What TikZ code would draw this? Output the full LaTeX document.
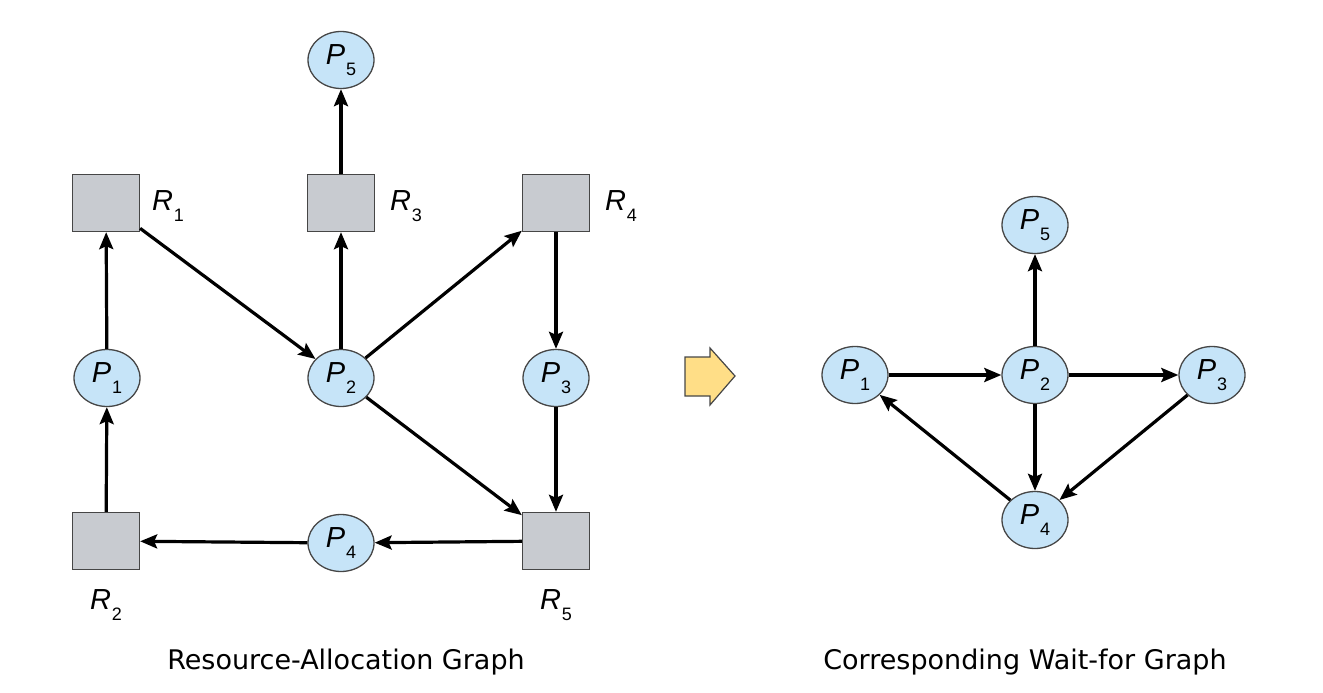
\documentclass[tikz,border=0pt]{standalone}
\usepackage{fontspec}
\setmainfont{Liberation Sans}
\newfontfamily\capfont{DejaVu Sans}
\usetikzlibrary{shapes.geometric,arrows.meta}
\definecolor{procfill}{RGB}{198,228,248}
\definecolor{resfill}{RGB}{200,203,208}
\definecolor{edgegray}{RGB}{70,70,70}
\definecolor{fatfill}{RGB}{255,222,135}
\newcommand{\lbl}[2]{{\itshape #1}\kern1pt\raisebox{-0.38em}{\fontsize{18}{18}\selectfont #2}}
\begin{document}
\begin{tikzpicture}[x=1pt,y=-1pt,
  proc/.style={ellipse,draw=edgegray,line width=1.3pt,fill=procfill,minimum width=66pt,minimum height=57pt,inner sep=0pt,font=\fontsize{29}{29}\selectfont},
  res/.style={rectangle,draw=edgegray,line width=1.3pt,fill=resfill,minimum width=67pt,minimum height=57pt,inner sep=0pt},
  rlab/.style={font=\fontsize{29}{29}\selectfont},
  edge/.style={line width=3.2pt,-{Stealth[length=17pt,width=14pt,inset=3pt]}},
  captext/.style={font=\capfont\fontsize{27}{27}\selectfont}]
\useasboundingbox (0,0) rectangle (1323,693);
% left graph
\node[proc] (lp5) at (341,60) {\lbl{P}{5}};
\node[proc] (lp1) at (107,378) {\lbl{P}{1}};
\node[proc] (lp2) at (341,378) {\lbl{P}{2}};
\node[proc] (lp3) at (556,378) {\lbl{P}{3}};
\node[proc] (lp4) at (341,543) {\lbl{P}{4}};
\node[res] (r1) at (106,203) {};
\node[res] (r3) at (341,203) {};
\node[res] (r4) at (556,203) {};
\node[res] (r2) at (106,541) {};
\node[res] (r5) at (556,541) {};
\node[rlab] (lr1) at (168,206) {\lbl{R}{1}};
\node[rlab] (lr3) at (406,206) {\lbl{R}{3}};
\node[rlab] (lr4) at (621,206) {\lbl{R}{4}};
\node[rlab] (lr2) at (106,605) {\lbl{R}{2}};
\node[rlab] (lr5) at (556,605) {\lbl{R}{5}};
\draw[edge] (r3) -- (lp5);
\draw[edge] (lp2) -- (r3);
\draw[edge] (r1) -- (lp2);
\draw[edge] (lp1) -- (r1);
\draw[edge] (r2) -- (lp1);
\draw[edge] (lp2) -- (r4);
\draw[edge] (r4) -- (lp3);
\draw[edge] (lp3) -- (r5);
\draw[edge] (lp2) -- (r5);
\draw[edge] (r5) -- (lp4);
\draw[edge] (lp4) -- (r2);
% fat arrow
\draw[draw=edgegray,line width=1.2pt,fill=fatfill,line join=miter]
  (685,357) -- (710,357) -- (710,348) -- (735,376) -- (710,405) -- (710,396) -- (685,396) -- cycle;
% right graph
\node[proc] (wp5) at (1035,225) {\lbl{P}{5}};
\node[proc] (wp1) at (855,375) {\lbl{P}{1}};
\node[proc] (wp2) at (1035,375) {\lbl{P}{2}};
\node[proc] (wp3) at (1212,375) {\lbl{P}{3}};
\node[proc] (wp4) at (1035,520) {\lbl{P}{4}};
\draw[edge] (wp1) -- (wp2);
\draw[edge] (wp2) -- (wp3);
\draw[edge] (wp2) -- (wp5);
\draw[edge] (wp2) -- (wp4);
\draw[edge] (wp3) -- (wp4);
\draw[edge] (wp4) -- (wp1);
% captions
\node[captext] (c1) at (346,662) {Resource-Allocation Graph};
\node[captext] (c2) at (1025,662) {Corresponding Wait-for Graph};
\end{tikzpicture}
\end{document}
